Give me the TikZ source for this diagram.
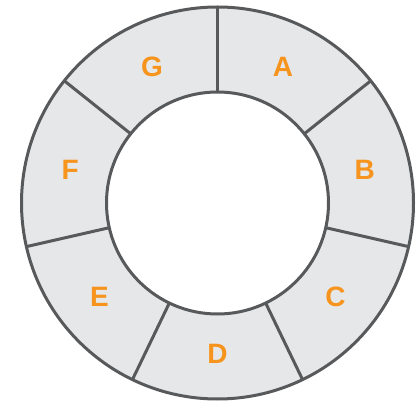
\documentclass[tikz,border=0pt]{standalone}
\usepackage{fontspec}
\setmainfont{Liberation Sans}
\definecolor{ringfill}{HTML}{E6E7E8}
\definecolor{ringline}{HTML}{58595B}
\definecolor{lbl}{HTML}{F7941D}
\begin{document}
\begin{tikzpicture}[x=1pt,y=-1pt,
  seglabel/.style={text=lbl,font=\bfseries\fontsize{28}{28}\selectfont,inner sep=0pt}]
\useasboundingbox (0,0) rectangle (420,403);
\coordinate (O) at (217.5,203);
\fill[ringfill,even odd rule] (O) circle[radius=196] (O) circle[radius=111];
\foreach \a in {0,...,6}{
  \draw[ringline,line width=3pt] ([shift={({-(90-\a*360/7)}:111)}]O) -- ([shift={({-(90-\a*360/7)}:196)}]O);
}
\draw[ringline,line width=3pt] (O) circle[radius=196];
\draw[ringline,line width=3pt] (O) circle[radius=111];
\foreach \t [count=\i from 0] in {A,B,C,D,E,F,G}{
  \node[seglabel] (l\t) at ([shift={({-(90-(\i+0.5)*360/7)}:151)}]O) {\t};
}
\end{tikzpicture}
\end{document}
